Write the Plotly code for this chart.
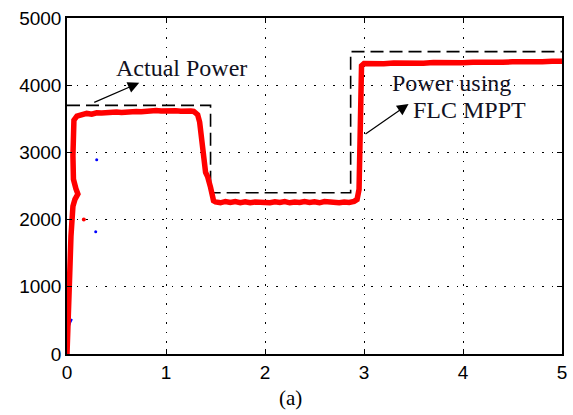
import plotly.graph_objects as go

# ---- data ----
actual_t = [0, 1.45, 1.45, 2.865, 2.865, 5.0]
actual_p = [3700, 3700, 2400, 2400, 4500, 4500]

flc_t = [0, 0.005, 0.01, 0.02, 0.03, 0.04, 0.05, 0.06, 0.08, 0.11, 0.09, 0.065, 0.06, 0.065, 0.07,
         0.10, 0.15, 0.2, 0.25, 0.3, 0.35, 0.4, 0.45, 0.5, 0.55, 0.6, 0.65, 0.7, 0.75, 0.8,
         0.85, 0.9, 0.95, 1.0, 1.05, 1.1, 1.15, 1.2, 1.25, 1.28, 1.3, 1.32, 1.34, 1.35, 1.36,
         1.38, 1.39, 1.40, 1.42, 1.43, 1.45, 1.47, 1.48, 1.50,
         1.55, 1.6, 1.65, 1.7, 1.75, 1.8, 1.85, 1.9, 1.95, 2.0, 2.05, 2.1, 2.15, 2.2, 2.25,
         2.3, 2.35, 2.4, 2.45, 2.5, 2.55, 2.6, 2.65, 2.7, 2.75, 2.8, 2.85, 2.9,
         2.93, 2.95, 2.955, 2.96, 2.965, 2.97, 2.975, 3.0,
         3.05, 3.1, 3.2, 3.3, 3.4, 3.5, 3.6, 3.7, 3.8, 3.9, 4.0, 4.1, 4.2, 4.3, 4.4, 4.5,
         4.6, 4.7, 4.8, 4.9, 5.0]
flc_p = [0, 150, 350, 800, 1300, 1750, 2050, 2200, 2300, 2380, 2460, 2600, 2950, 3250, 3480,
         3540, 3565, 3580, 3570, 3590, 3585, 3595, 3590, 3600, 3595, 3605, 3598, 3608, 3604, 3615,
         3610, 3625, 3615, 3622, 3612, 3620, 3614, 3624, 3616, 3610, 3590, 3560, 3450, 3300, 3180,
         3000, 2900, 2700, 2640, 2600, 2480, 2350, 2280, 2262,
         2250, 2270, 2255, 2268, 2252, 2266, 2250, 2262, 2256, 2270, 2252, 2265, 2255, 2268, 2250,
         2262, 2254, 2270, 2256, 2264, 2250, 2268, 2258, 2266, 2252, 2262, 2256, 2272,
         2300, 2450, 2800, 3300, 3700, 4100, 4290, 4322,
         4318, 4326, 4320, 4330, 4324, 4332, 4328, 4336, 4330, 4338, 4334, 4342, 4338, 4346, 4340, 4348,
         4344, 4352, 4348, 4356, 4358]

blue_t = [0, 0.005, 0.01, 0.015, 0.02, 0.03, 0.05]
blue_p = [0, 150, 300, 380, 420, 460, 520]
blue_dot_t = [0.30, 0.29]
blue_dot_p = [2890, 1820]
red_dot_t = [0.17]
red_dot_p = [2000]

x_ticks = [0, 1, 2, 3, 4, 5]
y_ticks = [0, 1000, 2000, 3000, 4000, 5000]

fig = go.Figure()
fig.add_trace(go.Scatter(x=blue_t, y=blue_p, mode="lines", line=dict(color="blue", width=2),
                         showlegend=False, hoverinfo="skip"))
fig.add_trace(go.Scatter(x=blue_dot_t, y=blue_dot_p, mode="markers",
                         marker=dict(color="blue", size=3), showlegend=False, hoverinfo="skip"))
fig.add_trace(go.Scatter(x=actual_t, y=actual_p, mode="lines",
                         line=dict(color="black", width=1.6, dash="13px,6px"),
                         showlegend=False, hoverinfo="skip"))
fig.add_trace(go.Scatter(x=flc_t, y=flc_p, mode="lines", line=dict(color="red", width=5.5),
                         showlegend=False, hoverinfo="skip"))
fig.add_trace(go.Scatter(x=red_dot_t, y=red_dot_p, mode="markers",
                         marker=dict(color="red", size=4), showlegend=False, hoverinfo="skip"))

axis_common = dict(
    showline=True, linecolor="black", linewidth=1.5, mirror="ticks",
    ticks="inside", ticklen=5, tickcolor="black", tickwidth=1.2,
    showgrid=True, gridcolor="black", gridwidth=1.2, griddash="1.5px,8px",
    zeroline=False, tickfont=dict(family="Liberation Sans, Arial", size=19, color="black"),
)

fig.update_xaxes(range=[0, 5], tickvals=x_ticks, ticktext=[str(v) for v in x_ticks], **axis_common)
fig.update_yaxes(range=[0, 5000], tickvals=y_ticks, ticktext=[str(v) for v in y_ticks], **axis_common)

serif = dict(family="Liberation Serif, Times New Roman", size=24, color="#111122")
fig.add_annotation(x=1.16, y=4250, text="Actual Power", showarrow=False, font=serif,
                   xref="x", yref="y")
fig.add_annotation(x=3.88, y=4030, text="Power using", showarrow=False, font=serif,
                   xref="x", yref="y")
fig.add_annotation(x=4.07, y=3630, text="FLC MPPT", showarrow=False, font=serif,
                   xref="x", yref="y")
fig.add_annotation(x=0.73, y=4035, ax=0.26, ay=3735, xref="x", yref="y", axref="x", ayref="y",
                   showarrow=True, arrowhead=2, arrowsize=1.9, arrowwidth=1.2, arrowcolor="black",
                   text="")
fig.add_annotation(x=3.45, y=3720, ax=3.0, ay=3260, xref="x", yref="y", axref="x", ayref="y",
                   showarrow=True, arrowhead=2, arrowsize=1.9, arrowwidth=1.2, arrowcolor="black",
                   text="")
fig.add_annotation(x=0.452, y=-0.131, xref="paper", yref="paper", text="(a)", showarrow=False,
                   xanchor="center", yanchor="middle",
                   font=dict(family="Liberation Serif, Times New Roman", size=21, color="black"))

fig.update_layout(
    width=573, height=415,
    margin=dict(l=67, r=6, t=18, b=61),
    paper_bgcolor="white", plot_bgcolor="white",
)

fig.write_html("out.html")
